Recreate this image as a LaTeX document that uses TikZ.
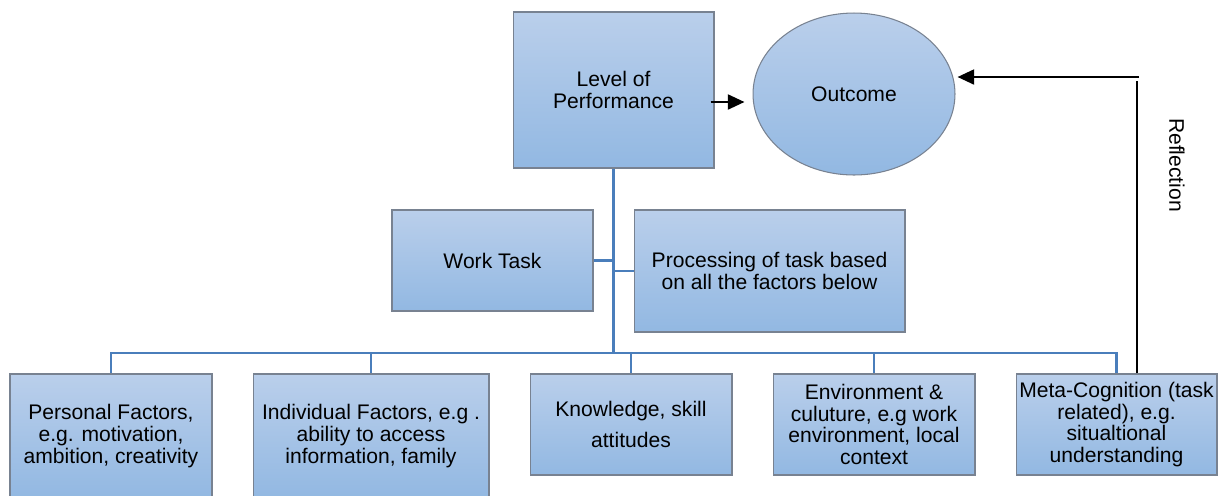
\documentclass[tikz,border=0pt]{standalone}
\usepackage{fontspec}
\setmainfont{Liberation Sans}
\usepackage{xcolor}
\usetikzlibrary{shapes,arrows.meta,positioning,calc}

\definecolor{boxtop}{RGB}{186,207,235}
\definecolor{boxbot}{RGB}{146,184,226}
\definecolor{boxline}{RGB}{120,130,145}
\definecolor{linkblue}{RGB}{74,126,187}

\begin{document}
\begin{tikzpicture}[x=0.02cm, y=-0.02cm,
    factor/.style={rectangle, draw=boxline, line width=0.6pt, top color=boxtop, bottom color=boxbot, align=center, inner sep=1pt, font=\fontsize{12}{12.4}\selectfont},
    result/.style={ellipse, draw=boxline, line width=0.6pt, top color=boxtop, bottom color=boxbot, align=center, inner sep=1pt, font=\fontsize{12}{12.4}\selectfont},
    link/.style={draw=linkblue, line width=1.6pt},
    arrow/.style={-{Triangle[length=9.5pt, width=8.5pt]}, line width=1.4pt},
    refline/.style={line width=0.6pt}
]
\useasboundingbox (0,0) rectangle (1223,495);

% Top level
\node[factor, minimum width=4.02cm, minimum height=3.12cm] (perf) at (613.5,90) {Level of\\Performance};
\node[result, minimum width=4.04cm, minimum height=3.24cm] (outcome) at (854,94) {Outcome};

% Middle level
\node[factor, minimum width=4.02cm, minimum height=2.02cm] (work) at (492.5,260.5) {Work Task};
\node[factor, minimum width=5.42cm, minimum height=2.44cm] (proc) at (769.5,271) {Processing of task based\\on all the factors below};

% Factors
\node[factor, minimum width=4.04cm, minimum height=2.48cm] (pers) at (111,436) {Personal Factors,\\e.g. motivation,\\ambition, creativity};
\node[factor, minimum width=4.72cm, minimum height=2.48cm] (indiv) at (371,436) {Individual Factors, e.g .\\ability to access\\information, family};
\node[factor, minimum width=4.04cm, minimum height=2.02cm] (know) at (631,424.5) {Knowledge, skill\\[5pt]attitudes};
\node[factor, minimum width=4.04cm, minimum height=2.02cm] (env) at (874,424.5) {Environment \&\\culuture, e.g work\\environment, local\\context};
\node[factor, minimum width=4.02cm, minimum height=2.02cm] (meta) at (1116.5,424.5) {Meta-Cognition (task\\related), e.g.\\situaltional\\understanding};

% Tree lines
\coordinate (bus) at (613.5,353);
\draw[link] (perf.south) -- (bus);
\draw[link] (work.east) -- (work.east -| bus);
\draw[link] (proc.west) -- (proc.west -| bus);
\foreach \n in {pers,indiv,know,env,meta}
    \draw[link] (bus) -| (\n.north);

% Arrows
\draw[arrow] ([shift={(-4,12)}]perf.east) -- ([shift={(-8,8)}]outcome.west);
\coordinate (refl) at (1137,77);
\draw[refline] (meta.north -| refl) -- ([yshift=-0.08cm]refl);
\draw[arrow] ([xshift=0.04cm]refl) -- ([xshift=0.04cm]outcome.east |- refl);
\node[font=\fontsize{12}{12.4}\selectfont, rotate=-90] (refltxt) at (1177,165) {Reflection};

\end{tikzpicture}
\end{document}
